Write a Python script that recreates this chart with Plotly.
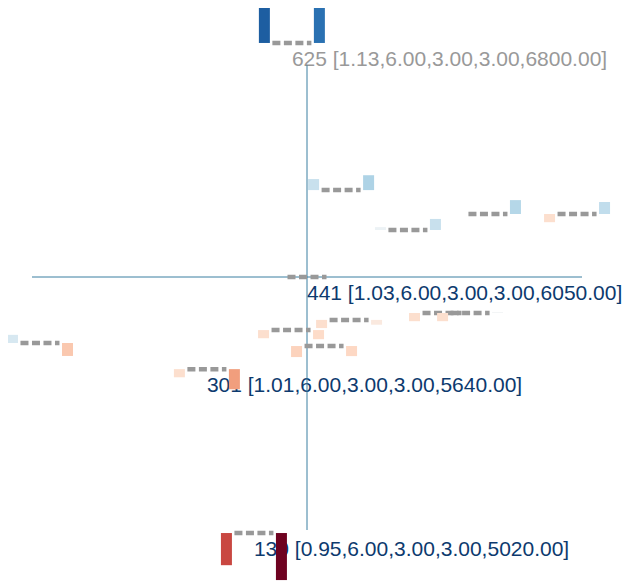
import plotly.graph_objects as go
from plotly.colors import sample_colorscale
import plotly.express as px

# glyph positions (data units) and left/right signed values
gx = [-0.55, 1.24, 3.67, 6.58, 9.82, 0.0, -9.71, -0.58, 1.53, 0.62, -3.64, 4.91, 5.93, -1.93]
gy = [8.51, 3.16, 1.71, 2.29, 2.29, 0.0, -2.4, -1.93, -1.56, -2.51, -3.35, -1.31, -1.31, -9.31]
left_v = [0.83, 0.23, 0.06, 0.0, -0.17, 0.0, 0.17, -0.17, -0.17, -0.23, -0.17, -0.17, -0.17, -0.67]
right_v = [0.75, 0.31, 0.23, 0.29, 0.25, 0.0, -0.27, -0.19, -0.10, -0.21, -0.42, 0.0, 0.02, -0.98]
label_idx = [0, 5, 10, 13]
label_txt = ["625 [1.13,6.00,3.00,3.00,6800.00]", "441 [1.03,6.00,3.00,3.00,6050.00]",
             "301 [1.01,6.00,3.00,3.00,5640.00]", "130 [0.95,6.00,3.00,3.00,5020.00]"]
label_col = ["#999999", "#0d3a6e", "#0d3a6e", "#0d3a6e"]

PX = 27.5
HALF = 19.5 / PX
GAP = 2.5 / PX
BW = 11 / PX
HMAX = 48 / PX

def col(v):
    return sample_colorscale(px.colors.diverging.RdBu, [(v + 1) / 2])[0]

shapes = []
axc = "#3b7ea1"
shapes.append(dict(type="line", x0=-10, x1=10, y0=0, y1=0, line=dict(color=axc, width=1)))
shapes.append(dict(type="line", x0=0, x1=0, y0=7.7, y1=-9.2, line=dict(color=axc, width=1)))
for x, y, lv, rv in zip(gx, gy, left_v, right_v):
    shapes.append(dict(type="line", x0=x - HALF, x1=x + HALF, y0=y, y1=y,
                       line=dict(color="#999999", width=4.5, dash="8px,3.5px")))
    for v, xa in ((lv, x - HALF - GAP - BW), (rv, x + HALF + GAP)):
        if abs(v) < 0.005:
            continue
        shapes.append(dict(type="rect", x0=xa, x1=xa + BW, y0=y, y1=y + v * HMAX,
                           fillcolor=col(v), line=dict(width=0)))

fig = go.Figure()
fig.add_trace(go.Scatter(x=[gx[i] for i in label_idx], y=[gy[i] - 18 / PX for i in label_idx],
                         mode="text", text=label_txt, textposition="middle right",
                         textfont=dict(family="Liberation Sans, Arial", size=21, color=label_col),
                         hoverinfo="skip"))
fig.update_layout(shapes=shapes, width=636, height=581, margin=dict(l=0, r=0, t=0, b=0),
                  plot_bgcolor="white", paper_bgcolor="white", showlegend=False,
                  xaxis=dict(range=[-299 / PX, 337 / PX], visible=False),
                  yaxis=dict(range=[-312 / PX, 269 / PX], visible=False))
fig.write_html("out.html")
